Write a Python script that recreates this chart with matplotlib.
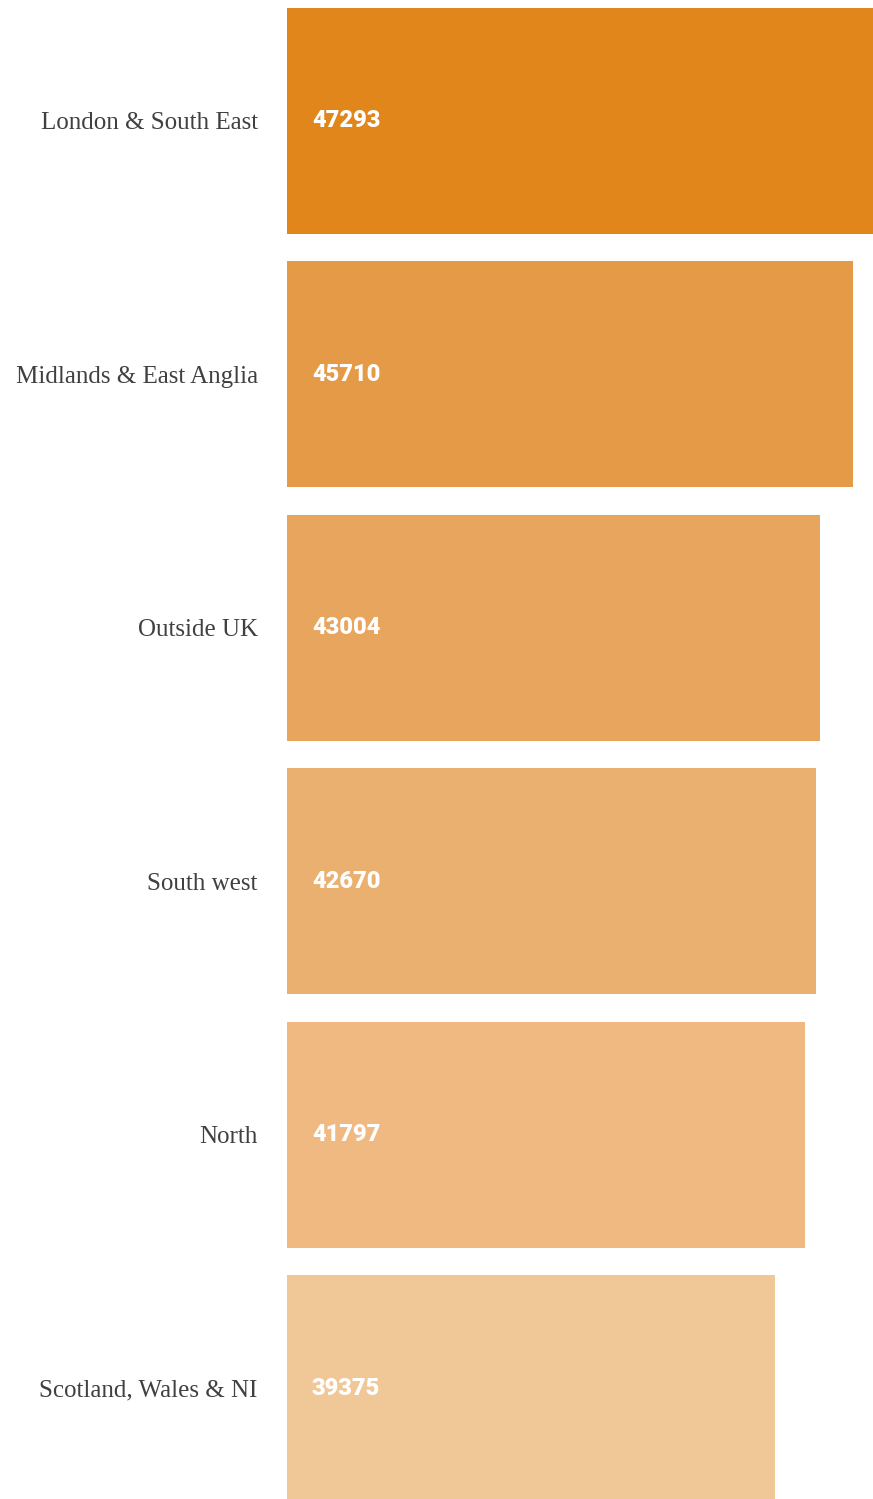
import matplotlib
matplotlib.use("Agg")
import matplotlib.pyplot as plt
from matplotlib.transforms import blended_transform_factory, offset_copy

regions = ["London & South East", "Midlands & East Anglia", "Outside UK",
           "South west", "North", "Scotland, Wales & NI"]
values = [47293, 45710, 43004, 42670, 41797, 39375]
colors = ["#E0861A", "#E49A46", "#E8A55E", "#EAB070", "#EFB981", "#F0C898"]

W, H, DPI = 873, 1499, 100
fig = plt.figure(figsize=(W / DPI, H / DPI), dpi=DPI)
ax = fig.add_axes([287 / W, 0, 1 - 287 / W, 1])

ypos = list(range(len(regions)))
ax.barh(ypos, values, height=0.892, color=colors, edgecolor="none")
ax.set_xlim(0, max(values))
ax.set_ylim(5.438, -0.4775)

ax.set_yticks(ypos)
ax.set_yticklabels(regions, fontsize=18, color="#404040",
                   family=["Liberation Serif"])
ax.tick_params(axis="y", length=0, pad=21)
ax.set_xticks([])
for s in ax.spines.values():
    s.set_visible(False)

trans = offset_copy(blended_transform_factory(ax.transData, ax.transData),
                    fig=fig, x=25, y=0, units="dots")
for y, v in zip(ypos, values):
    ax.text(0, y, str(v), transform=trans, ha="left", va="center",
            fontsize=17, fontweight=900, color="white", family="Roboto")

fig.savefig("out.png", dpi=DPI)
